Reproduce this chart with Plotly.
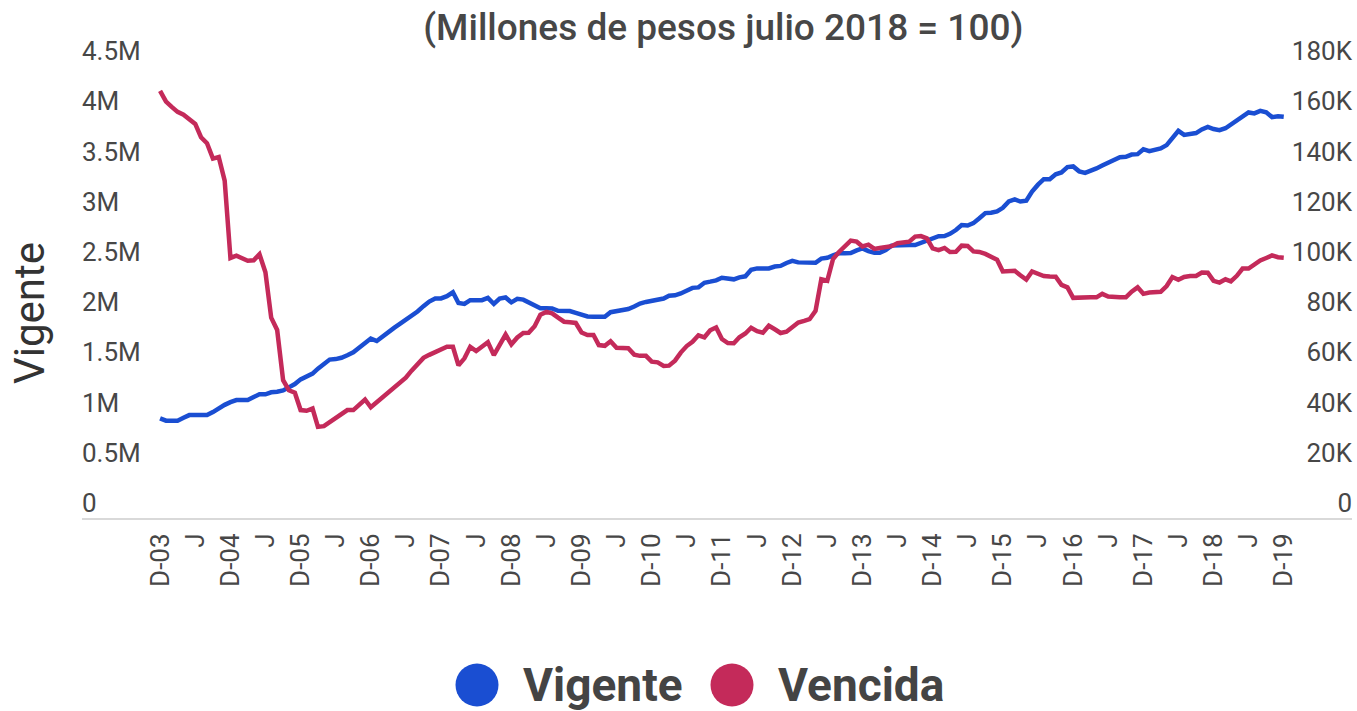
import pandas as pd
import plotly.graph_objects as go

# ---------------- data ----------------
months = pd.date_range("2003-12-01", "2019-12-01", freq="MS")

# Vigente (millions), monthly Dec-2003 .. Dec-2019
vigente_m = [
    0.993, 0.969, 0.969, 0.969, 0.998, 1.025, 1.025, 1.025, 1.025, 1.055, 1.097, 1.127,
    1.154, 1.175, 1.175, 1.175, 1.205, 1.232, 1.232, 1.252, 1.257, 1.271, 1.301, 1.334,
    1.381, 1.410, 1.438, 1.488, 1.529, 1.578, 1.583, 1.596, 1.621, 1.650, 1.695, 1.742,
    1.787, 1.763, 1.813, 1.854, 1.894, 1.933, 1.974, 2.005, 2.057, 2.110, 2.156, 2.187,
    2.187, 2.209, 2.248, 2.142, 2.132, 2.170, 2.170, 2.170, 2.193, 2.132, 2.185, 2.197,
    2.148, 2.183, 2.175, 2.146, 2.116, 2.088, 2.088, 2.087, 2.063, 2.061, 2.061, 2.043,
    2.021, 2.007, 2.004, 2.004, 2.004, 2.050, 2.061, 2.061, 2.081, 2.106, 2.136, 2.152,
    2.160, 2.170, 2.186, 2.213, 2.218, 2.237, 2.262, 2.292, 2.297, 2.343, 2.354, 2.367,
    2.393, 2.386, 2.377, 2.397, 2.407, 2.472, 2.486, 2.486, 2.486, 2.505, 2.511, 2.540,
    2.561, 2.546, 2.542, 2.542, 2.542, 2.584, 2.592, 2.615, 2.636, 2.638, 2.640, 2.666,
    2.685, 2.658, 2.641, 2.641, 2.669, 2.713, 2.718, 2.718, 2.718, 2.718, 2.742, 2.770,
    2.791, 2.807, 2.808, 2.830, 2.868, 2.917, 2.913, 2.937, 2.985, 3.037, 3.040, 3.054,
    3.089, 3.153, 3.173, 3.152, 3.161, 3.251, 3.320, 3.375, 3.375, 3.424, 3.442, 3.495,
    3.502, 3.453, 3.438, 3.454, 3.482, 3.510, 3.537, 3.565, 3.593, 3.597, 3.620, 3.624,
    3.673, 3.654, 3.669, 3.681, 3.714, 3.785, 3.856, 3.816, 3.827, 3.834, 3.870, 3.896,
    3.874, 3.863, 3.882, 3.917, 3.960, 3.998, 4.039, 4.030, 4.055, 4.040, 3.993, 4.002,
    3.996,
]

# Vencida (thousands), monthly Dec-2003 .. Dec-2019
vencida_k = [
    170.2, 165.9, 163.7, 161.8, 160.7, 158.9, 157.0, 151.7, 149.3, 143.2, 143.8, 134.4,
    103.6, 104.5, 103.3, 102.5, 102.7, 105.1, 97.9, 79.8, 74.9, 54.9, 50.9, 49.9,
    43.0, 42.7, 43.6, 36.3, 36.6, 38.2, 40.1, 41.6, 43.0, 43.0, 45.2, 47.2,
    44.1, 46.1, 48.0, 49.9, 51.9, 53.9, 55.9, 58.7, 61.3, 63.8, 65.0, 66.0,
    66.9, 68.2, 68.2, 60.8, 63.6, 68.2, 66.5, 68.1, 70.0, 64.9, 68.9, 73.1,
    69.2, 71.9, 73.7, 73.8, 76.4, 81.0, 82.1, 81.5, 79.8, 78.2, 78.0, 77.7,
    73.9, 72.9, 72.9, 68.9, 68.6, 70.4, 67.8, 67.6, 67.6, 65.1, 64.6, 64.6,
    62.3, 62.0, 60.6, 60.7, 62.7, 65.9, 68.5, 70.2, 72.8, 72.0, 74.8, 75.9,
    71.3, 69.7, 69.6, 72.0, 73.5, 75.8, 74.4, 73.8, 76.6, 75.2, 73.7, 74.2,
    75.8, 77.9, 78.5, 79.2, 82.5, 95.1, 94.5, 103.2, 106.0, 108.6, 110.5, 110.1,
    108.2, 108.9, 107.2, 107.6, 108.0, 108.3, 109.5, 109.7, 110.1, 112.1, 112.3, 111.4,
    107.4, 106.7, 107.6, 106.0, 106.1, 108.5, 108.4, 106.2, 106.0, 105.2, 104.2, 102.9,
    98.2, 98.2, 98.5, 96.7, 95.0, 98.2, 97.4, 96.4, 96.2, 96.1, 92.9, 91.9,
    87.7, 87.9, 87.9, 87.9, 87.9, 89.3, 88.2, 87.9, 87.9, 87.9, 90.2, 91.9,
    89.3, 89.8, 90.1, 90.1, 92.4, 96.0, 94.9, 96.0, 96.4, 96.4, 97.8, 97.7,
    94.5, 93.8, 95.1, 94.3, 96.5, 99.4, 99.4, 101.1, 102.6, 103.6, 104.6, 103.9,
    103.7,
]

x_tick_dates = pd.date_range("2003-12-01", "2019-12-01", freq="6MS")
x_tick_text = [
    "D-03", "J", "D-04", "J", "D-05", "J", "D-06", "J", "D-07", "J", "D-08", "J",
    "D-09", "J", "D-10", "J", "D-11", "J", "D-12", "J", "D-13", "J", "D-14", "J",
    "D-15", "J", "D-16", "J", "D-17", "J", "D-18", "J", "D-19",
]

left_tick_vals = [0, 0.5, 1, 1.5, 2, 2.5, 3, 3.5, 4, 4.5]
left_tick_text = ["0", "0.5M", "1M", "1.5M", "2M", "2.5M", "3M", "3.5M", "4M", "4.5M"]
right_tick_vals = [0, 20, 40, 60, 80, 100, 120, 140, 160, 180]
right_tick_text = ["0", "20K", "40K", "60K", "80K", "100K", "120K", "140K", "160K", "180K"]

series_names = ["Vigente", "Vencida"]
series_colors = ["#1a4ed2", "#c42a5a"]

title_text = "(Millones de pesos julio 2018 = 100)"
y_title_text = "Vigente"

# ---------------- figure ----------------
W, H = 1357, 711
ML, MR, MB = 82, 5, 193
LEFT_MAX = 5.0             # headroom so the top tick label stays inside the plot
RIGHT_MAX = LEFT_MAX * 40  # same scale ratio as the reference (4.5M <-> 180K)
PX_PER_M = 100.44
MT = int(round(H - MB - LEFT_MAX * PX_PER_M))
plot_w = W - ML - MR
plot_h = H - MT - MB

def px_x(px):
    return (px - ML) / plot_w

def px_y(py):
    return (H - MB - py) / plot_h

FONT = "Roboto, 'Noto Sans', sans-serif"
TXT = "#474747"

fig = go.Figure()
fig.add_trace(go.Scatter(
    x=months, y=vigente_m, name=series_names[0], mode="lines",
    line=dict(color=series_colors[0], width=4.5), yaxis="y",
))
fig.add_trace(go.Scatter(
    x=months, y=vencida_k, name=series_names[1], mode="lines",
    line=dict(color=series_colors[1], width=4.5), yaxis="y2",
))

fig.update_layout(
    width=W, height=H,
    margin=dict(l=ML, r=MR, t=MT, b=MB, pad=0),
    paper_bgcolor="white", plot_bgcolor="white",
    showlegend=False,
    font=dict(family=FONT, color=TXT),
    title=dict(
        text=title_text, xref="paper", x=0.505, xanchor="center",
        yref="container", y=1 - 27 / H, yanchor="middle",
        font=dict(family=FONT, size=37, color=TXT, weight=500),
    ),
    xaxis=dict(
        type="date",
        range=["2002-10-21", "2020-11-20"],
        tickmode="array", tickvals=list(x_tick_dates), ticktext=x_tick_text,
        tickangle=-90, tickfont=dict(family=FONT, size=26, color=TXT),
        showgrid=False, zeroline=False,
        showline=True, linecolor="#d9d9d9", linewidth=2,
        ticks="", ticklabelstandoff=3,
        fixedrange=True,
    ),
    yaxis=dict(
        range=[0, LEFT_MAX], tickmode="array", tickvals=left_tick_vals, ticktext=left_tick_text,
        ticklabelposition="inside top", tickfont=dict(family=FONT, size=26, color=TXT),
        ticklabelshift=3, ticklabelstandoff=-3,
        showgrid=False, zeroline=False, showline=False, ticks="",
    ),
    yaxis2=dict(
        range=[0, RIGHT_MAX], tickmode="array", tickvals=right_tick_vals, ticktext=right_tick_text,
        ticklabelposition="inside top", tickfont=dict(family=FONT, size=26, color=TXT),
        ticklabelshift=3, ticklabelstandoff=-3,
        overlaying="y", side="right",
        showgrid=False, zeroline=False, showline=False, ticks="",
    ),
)

# y-axis title
fig.add_annotation(
    text=y_title_text, xref="paper", yref="paper",
    x=px_x(30), y=px_y(313), xanchor="center", yanchor="middle",
    textangle=-90, showarrow=False,
    font=dict(family=FONT, size=42, color="#333333"),
)

# custom legend (large circles + bold labels)
legend_items = [(477, 521), (732, 776)]
for (cx, tx), name, color in zip(legend_items, series_names, series_colors):
    fig.add_shape(
        type="circle", xref="paper", yref="paper",
        xsizemode="pixel", ysizemode="pixel",
        xanchor=px_x(cx), yanchor=px_y(685),
        x0=-21.5, x1=21.5, y0=-21.5, y1=21.5,
        fillcolor=color, line=dict(width=0),
    )
    fig.add_annotation(
        text=name, xref="paper", yref="paper",
        x=px_x(tx), y=px_y(685), xanchor="left", yanchor="middle",
        showarrow=False,
        font=dict(family=FONT, size=46, color="#444444", weight="bold"),
    )

fig.write_html(
    "out.html",
    config={"displayModeBar": False},
    post_script="document.body.style.margin='0px';",
)
